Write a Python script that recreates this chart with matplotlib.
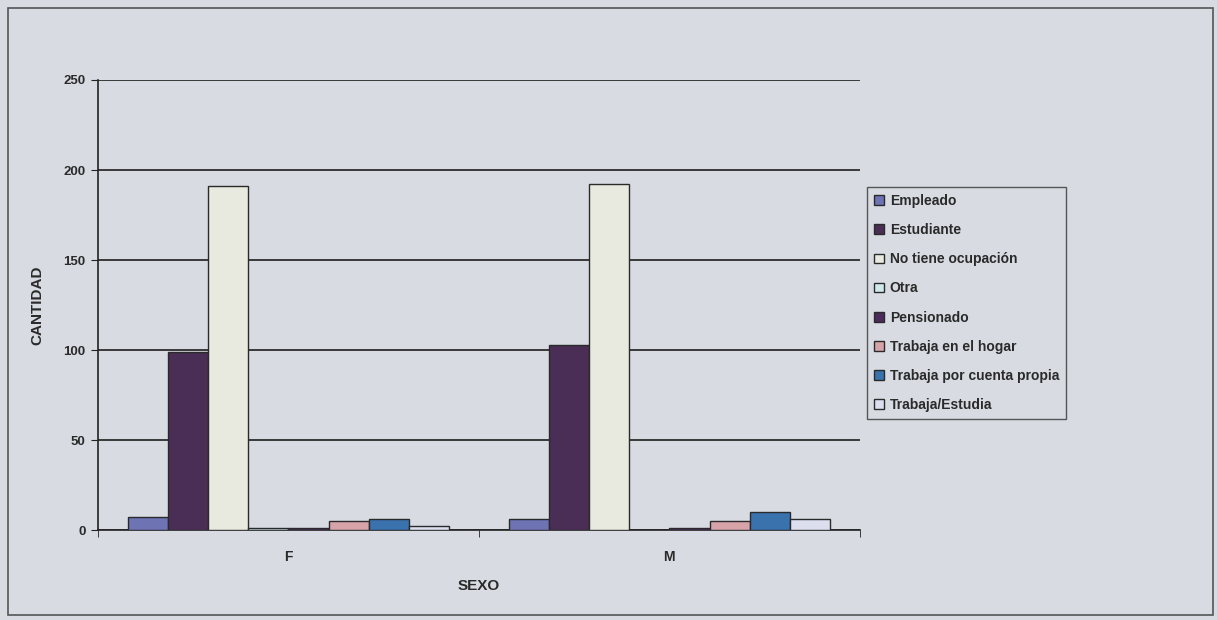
import matplotlib.pyplot as plt
import numpy as np
from matplotlib.patches import Rectangle

plt.rcParams['font.family'] = ['Liberation Sans', 'DejaVu Sans']
plt.rcParams['font.weight'] = 'bold'

# data
sexo = ['F', 'M']
ocupaciones = ['Empleado', 'Estudiante', 'No tiene ocupación', 'Otra', 'Pensionado',
               'Trabaja en el hogar', 'Trabaja por cuenta propia', 'Trabaja/Estudia']
valores_f = [7, 99, 191, 1, 1, 5, 6, 2]
valores_m = [6, 103, 192, 0, 1, 5, 10, 6]
colores = ['#6d73b3', '#4a2e55', '#e8eadf', '#cfe9ec', '#4b2a5c',
           '#d6a3a9', '#3a72ad', '#dcdfee']
y_ticks = [0, 50, 100, 150, 200, 250]

bg = '#d8dce2'
fig = plt.figure(figsize=(12.17, 6.2), dpi=100, facecolor=bg)
ax = fig.add_axes([0.0805, 0.145, 0.626, 0.726])
ax.set_facecolor(bg)

n = len(ocupaciones)
ancho = 0.1055
centros = np.arange(len(sexo)) + 0.5
for k, (nombre, color) in enumerate(zip(ocupaciones, colores)):
    vals = [valores_f[k], valores_m[k]]
    x = centros + (k - (n - 1) / 2) * ancho
    ax.bar(x, vals, width=ancho, color=color, edgecolor='#2a2a2a',
           linewidth=1.0, label=nombre, zorder=3)

ax.set_xlim(0, 2)
ax.set_ylim(0, 250)
ax.set_yticks(y_ticks)
ax.yaxis.grid(True, color='#1e1e1e', linewidth=1.2, zorder=1)
ax.set_xticks(centros)
ax.set_xticklabels(sexo, fontsize=10, fontweight='bold', color='#2a2a2a')
ax.set_xticks([0, 1, 2], minor=True)
ax.tick_params(axis='x', which='major', length=0, pad=14)
ax.tick_params(axis='x', which='minor', length=5, direction='out', color='#222')
ax.tick_params(axis='y', length=5, direction='out', color='#222', labelsize=9.5,
               labelcolor='#2a2a2a', pad=4)
for lbl in ax.get_yticklabels():
    lbl.set_fontweight('bold')
for s in ['top', 'right']:
    ax.spines[s].set_visible(False)
for s in ['left', 'bottom']:
    ax.spines[s].set_color('#222')
    ax.spines[s].set_linewidth(1.2)

ax.set_ylabel('CANTIDAD', fontsize=11, fontweight='bold', color='#2a2a2a', labelpad=14)
ax.set_xlabel('SEXO', fontsize=11, fontweight='bold', color='#2a2a2a', labelpad=11)

leg = ax.legend(loc='upper left', bbox_to_anchor=(1.01, 0.762), fontsize=10,
                frameon=True, fancybox=False, edgecolor='#333', facecolor=bg,
                handlelength=0.7, handleheight=0.7, handletextpad=0.4,
                labelspacing=1.09, borderpad=0.5, borderaxespad=0)
leg.get_frame().set_linewidth(1.0)
for t in leg.get_texts():
    t.set_fontweight('bold')
    t.set_color('#2a2a2a')

fig.patches.append(Rectangle((8 / 1217, 5 / 620), 1205 / 1217, 607 / 620,
                             transform=fig.transFigure, fill=False,
                             edgecolor='#555', linewidth=1.2))

fig.savefig('out.png', dpi=100, facecolor=bg)
